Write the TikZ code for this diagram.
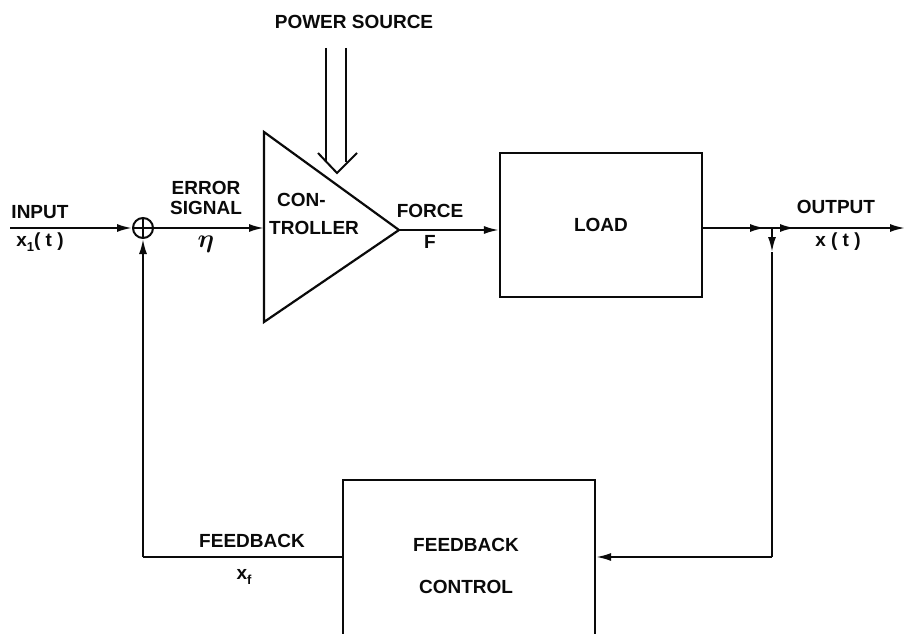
\documentclass[tikz,border=0pt]{standalone}
\usepackage{amsmath,amssymb}
\usepackage{fontspec}
\setmainfont{Liberation Sans}
\usetikzlibrary{positioning,arrows.meta,calc}
\definecolor{ink}{RGB}{10,10,10}
\newcommand{\lbl}{\fontsize{19}{23}\selectfont\bfseries}
\newcommand{\subsc}[1]{\raisebox{-5pt}{\fontsize{13}{13}\selectfont #1}}
\tikzset{
  blk/.style={draw=ink, rectangle, line width=2.2pt, align=center, font=\lbl, text=ink},
  tag/.style={font=\lbl, text=ink, inner sep=1pt},
  flow/.style={-{Latex[length=15pt,width=8pt]}, line width=2pt, draw=ink},
  wire/.style={line width=2pt, draw=ink},
}

\begin{document}
\begin{tikzpicture}[x=1pt,y=-1pt]
  \path[use as bounding box, clip] (0,0) rectangle (906,634);
  \fill[white] (0,0) rectangle (906,634);
  % summing point
  \node[circle, draw=ink, line width=2pt, minimum size=20pt, inner sep=0pt] (sum) at (143,228) {};
  \draw[wire] (sum.west) -- (sum.east) (sum.north) -- (sum.south);
  % controller
  \coordinate (ctrlin) at (264,228);
  \coordinate (ctrlout) at (399,230);
  \draw[line width=2.2pt, draw=ink, line join=miter] (264,132) -- (ctrlout) -- (264,322) -- cycle;
  \node[tag, anchor=west] (con) at (276,200) {CON-};
  \node[tag, anchor=west] (trol) at (268,228) {TROLLER};
  \node[blk, minimum width=202pt, minimum height=144pt] (load) at (601,225) {LOAD};
  \node[blk, minimum width=252pt, minimum height=190pt, text depth=0pt] (fbc) at (469,575) {};
  \node[tag] (fbc1) at (466,545) {FEEDBACK};
  \node[tag] (fbc2) at (466,587) {CONTROL};
  % power source
  \node[tag] (pwr) at (354,22) {POWER SOURCE};
  \coordinate (pl) at (326,48);
  \coordinate (pr) at (346,48);
  \coordinate (ptip) at (337,173);
  \draw[wire] (pl) -- (326,162) (pr) -- (346,162);
  \draw[wire] (318,153) -- (ptip) -- (357,153);
  % signals
  \coordinate (in) at (10,228);
  \draw[flow] (in) -- (sum.west);
  \draw[flow] (sum.east) -- (ctrlin);
  \draw[flow] (ctrlout) -- (load.west |- ctrlout);
  \coordinate (o1) at (765,228);
  \coordinate (br) at (772,228);
  \coordinate (o2) at (795,228);
  \coordinate (out) at (905,228);
  \coordinate (dn) at (772,252);
  \coordinate (corner) at (772,557);
  \coordinate (fbl) at (143,557);
  \draw[wire] (load.east |- o1) -- (o2);
  \draw[flow] (load.east |- o1) -- (o1);
  \draw[flow] (br) -- (o2);
  \draw[flow] (o2) -- (out);
  \draw[flow] (br) -- (dn);
  \draw[wire] (dn) -- (corner);
  \draw[flow] (corner) -- (fbc.east |- corner);
  \draw[wire] (fbc.west |- corner) -- (fbl);
  \draw[flow] (fbl) -- (sum.south);
  % labels
  \node[tag] (inp) at (40,212) {INPUT};
  \node[tag] (xin) at (40,242) {x\subsc{1}( t )};
  \node[tag, align=center] (err) at (206,198) {ERROR\\[-3pt]SIGNAL};
  \node[tag] (eta) at (206,244) {\scalebox{1.5}{$\boldsymbol{\eta}$}};
  \node[tag] (frc) at (430,211) {FORCE};
  \node[tag] (fF) at (430,242) {F};
  \node[tag] (outp) at (836,207) {OUTPUT};
  \node[tag] (xout) at (838,242) {x ( t )};
  \node[tag] (fbk) at (252,541) {FEEDBACK};
  \node[tag] (xf) at (244,577) {x\subsc{f}};
\end{tikzpicture}
\end{document}
